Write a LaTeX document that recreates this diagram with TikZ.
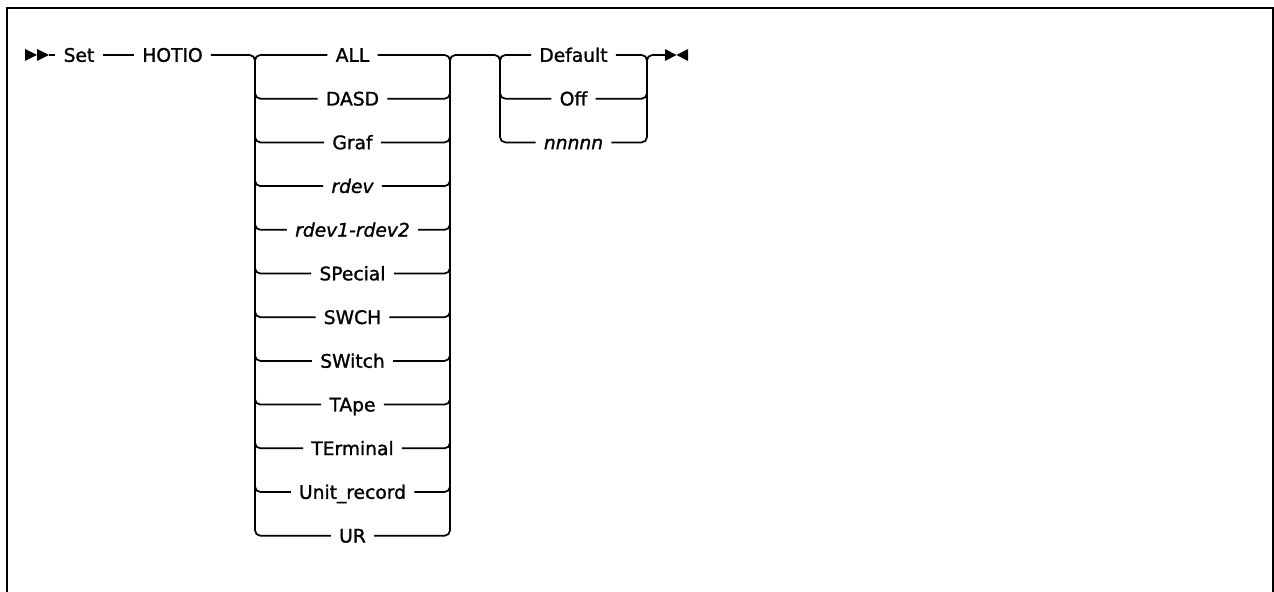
\documentclass[tikz,border=0pt]{standalone}
\usepackage{fontspec}
\setmainfont{DejaVu Sans}
\newfontfamily\railfont{DejaVu Sans}[FakeBold=1.3]
\usetikzlibrary{calc}
\begin{document}
\begin{tikzpicture}[x=0.75pt,y=-0.75pt,
  rail/.style={line width=1.3pt, rounded corners=4pt},
  lbl/.style={font=\railfont\fontsize{14}{16}\selectfont, inner xsep=6pt, inner ysep=0pt, text height=10.2pt, text depth=0pt},
  frame/.style={line width=1.5pt},
  tipfill/.style={fill=black}]
\useasboundingbox (0,0) rectangle (1274,592);
\draw[frame] (7,600) -- (7,8) -- (1273,8) -- (1273,600);

% start
\fill[tipfill] (25,49) -- (37,55) -- (25,61) -- cycle;
\fill[tipfill] (37,49) -- (49,55) -- (37,61) -- cycle;
\coordinate (s1) at (49,55);
\node[lbl] (set) at (79,55) {Set};
\node[lbl] (hotio) at (172.5,55) {HOTIO};
\draw[rail] (s1) -- (set.west);
\draw[rail] (set.east) -- (hotio.west);

% group 1
\coordinate (L1) at (255,55);
\coordinate (R1) at (450,55);
\foreach \i/\txt in {0/ALL,1/DASD,2/Graf,3/{\itshape rdev},4/{\itshape rdev1-rdev2},5/SPecial,6/SWCH,7/SWitch,8/TApe,9/TErminal,10/Unit\_record,11/UR}
  \node[lbl] (t\i) at (352.5,{55+\i*43.7}) {\txt};

\draw[rail] (hotio.east) -- (L1) -- (L1 |- t11) -- (t11.west);
\draw[rail] ($(L1)+(0,10)$) -- (L1) -- (t0.west);
\foreach \i in {1,...,10}
  \draw[rail] ($(L1|-t\i)+(0,-12)$) -- (L1|-t\i) -- (t\i.west);
\draw[rail] (t0.east) -- (R1) -- ($(R1)+(0,10)$);
\foreach \i in {1,...,10}
  \draw[rail] (t\i.east) -- (R1|-t\i) -- ($(R1|-t\i)+(0,-12)$);

% group 2
\coordinate (L2) at (500,55);
\coordinate (R2) at (647,55);
\node[lbl] (d0) at (573.5,55) {Default};
\node[lbl] (d1) at (573.5,98.7) {Off};
\node[lbl] (d2) at (573.5,142.4) {\itshape nnnnn};
\draw[rail] (t11.east) -- (R1|-t11) -- (R1) -- (L2) -- (L2|-d2) -- (d2.west);
\draw[rail] ($(L2)+(0,10)$) -- (L2) -- (d0.west);
\draw[rail] ($(L2|-d1)+(0,-12)$) -- (L2|-d1) -- (d1.west);
\draw[rail] (d0.east) -- (R2) -- ($(R2)+(0,10)$);
\draw[rail] (d1.east) -- (R2|-d1) -- ($(R2|-d1)+(0,-12)$);

% end
\coordinate (e0) at (665,55);
\draw[rail] (d2.east) -- (R2|-d2) -- (R2) -- (e0);
\fill[tipfill] (665,49) -- (676.5,55) -- (665,61) -- cycle;
\fill[tipfill] (688,49) -- (676.5,55) -- (688,61) -- cycle;
\end{tikzpicture}
\end{document}
